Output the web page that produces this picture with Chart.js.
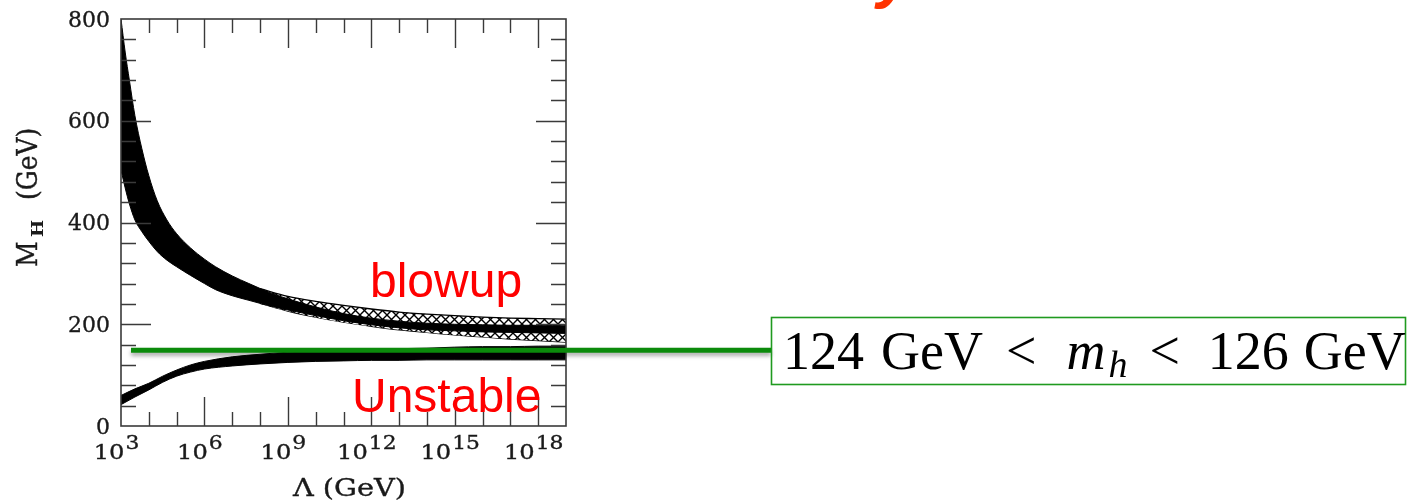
<!DOCTYPE html>
<html>
<head>
<meta charset="utf-8">
<script src="https://cdn.jsdelivr.net/npm/chart.js@4/dist/chart.umd.min.js"></script>
<style>
  html, body { margin: 0; padding: 0; background: #fff; overflow: hidden; }
  #wrap { width: 1408px; height: 503px; position: relative; }
</style>
</head>
<body>
<div id="wrap"><canvas id="c" width="1408" height="503"></canvas></div>
<script>
// Upper (triviality) bound: solid band, x = log10(Λ / GeV), y = M_H in GeV
const upperLogL   = [3, 3.15, 3.3, 3.5, 3.75, 4, 4.3, 4.65, 5, 5.5, 6, 6.4, 7, 7.6, 8.5, 9, 10, 11, 12, 13, 14, 15, 16, 17, 18, 19];
const upperTop    = [800, 735, 680, 610, 545, 492, 443, 405, 378, 350, 328, 313, 295, 280, 259, 250, 234, 221, 212, 206, 202, 200, 199, 198, 198, 197];
const upperBottom = [503, 468, 437, 405, 382, 363, 343, 326, 313, 296, 280, 268, 256, 247, 234, 228, 217, 207, 199, 193, 189, 187, 185, 184, 183, 182];

// Upper bound: hatched band (top-mass uncertainty)
const hatchLogL   = [8, 9, 10, 11, 12, 13, 14, 15, 16, 17, 18, 19];
const hatchTop    = [270, 255, 245, 237, 230, 224, 220, 217, 214, 212, 211, 210];
const hatchBottom = [241, 226, 214, 204, 196, 189, 184, 179, 175, 171, 168, 165];

// Lower (vacuum stability) bound
const lowerLogL   = [3, 3.5, 4, 4.5, 5, 5.5, 6, 7, 8, 9, 10, 11, 12, 13, 14, 15, 16, 17, 18, 19];
const lowerTop    = [60, 73, 84, 98, 110, 120, 127, 136, 141, 145, 147, 149, 150, 152, 153, 155, 156, 156, 157, 157];
const lowerBottom = [42, 57, 71, 86, 98, 106, 112, 118, 122, 125, 127, 128, 129, 129, 130, 130, 130, 130, 130, 130];

// Axis ticks
const xTickExponents = [3, 6, 9, 12, 15, 18];
const yTickLabels    = [0, 200, 400, 600, 800];

// Measured Higgs mass marker
const higgsMarkerMass  = 149;
const higgsMarkerStart = 3.36;
const higgsRangeText   = ['124', 'GeV', '<', 'm', 'h', '<', '126', 'GeV'];

const pts = (xs, ys) => xs.map((v, i) => ({ x: v, y: ys[i] }));

function makeHatch(ctx) {
  const n = 9;
  const c = document.createElement('canvas');
  c.width = n; c.height = n;
  const g = c.getContext('2d');
  g.fillStyle = '#fff';
  g.fillRect(0, 0, n, n);
  g.strokeStyle = '#000';
  g.lineWidth = 1.4;
  g.beginPath();
  g.moveTo(0, 0); g.lineTo(n, n);
  g.moveTo(n, 0); g.lineTo(0, n);
  g.stroke();
  return ctx.createPattern(c, 'repeat');
}

const canvas = document.getElementById('c');
const hatch = makeHatch(canvas.getContext('2d'));

const SERIF = '"DejaVu Serif"';

// text with a horizontal stretch and a light outline to give it some weight
function stretchedText(ctx, str, x, y, font, align, sx) {
  ctx.save();
  ctx.translate(x, y);
  ctx.scale(sx, 1);
  ctx.font = font;
  ctx.textAlign = align;
  ctx.lineWidth = 0.35;
  ctx.strokeStyle = ctx.fillStyle;
  ctx.fillText(str, 0, 0);
  ctx.strokeText(str, 0, 0);
  ctx.restore();
}

const decor = {
  id: 'decor',
  afterDatasetsDraw(chart) {
    const { ctx, chartArea: a, scales: { x, y } } = chart;
    ctx.save();

    // frame
    ctx.strokeStyle = '#3a3a3a';
    ctx.lineWidth = 1.6;
    ctx.strokeRect(a.left, a.top, a.right - a.left, a.bottom - a.top);

    // inward ticks, every decade on x, every 40 GeV on y
    ctx.lineWidth = 1.4;
    ctx.beginPath();
    for (let e = 4; e <= 18; e++) {
      const px = Math.round(x.getPixelForValue(e)) + 0.5;
      const len = e % 3 === 0 ? 29 : 14;
      ctx.moveTo(px, a.bottom); ctx.lineTo(px, a.bottom - len);
      ctx.moveTo(px, a.top);    ctx.lineTo(px, a.top + len);
    }
    for (let v = 40; v < 800; v += 40) {
      const py = Math.round(y.getPixelForValue(v)) + 0.5;
      const len = v % 200 === 0 ? 30 : 15;
      ctx.moveTo(a.left, py);  ctx.lineTo(a.left + len, py);
      ctx.moveTo(a.right, py); ctx.lineTo(a.right - len, py);
    }
    ctx.stroke();

    // tick labels
    ctx.fillStyle = '#1a1a1a';
    ctx.textBaseline = 'middle';
    yTickLabels.forEach(v => {
      stretchedText(ctx, String(v), a.left - 11, y.getPixelForValue(v) + 2,
        `22px ${SERIF}`, 'right', 1.0);
    });
    ctx.textBaseline = 'alphabetic';
    const SXL = 1.15;
    xTickExponents.forEach(e => {
      const px = x.getPixelForValue(e);
      ctx.font = `21px ${SERIF}`;
      const wBase = ctx.measureText('10').width * SXL;
      ctx.font = `19px ${SERIF}`;
      const wSup = ctx.measureText(String(e)).width * SXL;
      const left = px - 5 - (wBase + wSup) / 2;
      stretchedText(ctx, '10', left, a.bottom + 33, `21px ${SERIF}`, 'left', SXL);
      stretchedText(ctx, String(e), left + wBase + 1, a.bottom + 23, `19px ${SERIF}`, 'left', SXL);
    });

    // x axis title
    stretchedText(ctx, 'Λ (GeV)', (a.left + a.right) / 2 + 6, a.bottom + 70,
      `25px ${SERIF}`, 'center', 1.15);

    // y axis title (rotated, stretched across the page)
    ctx.save();
    ctx.translate(37, 267);
    ctx.rotate(-Math.PI / 2);
    ctx.scale(1, 1.15);
    ctx.lineWidth = 0.35;
    ctx.strokeStyle = ctx.fillStyle;
    ctx.textAlign = 'left';
    ctx.font = `25px ${SERIF}`;
    ctx.fillText('M', 0, 0);
    ctx.strokeText('M', 0, 0);
    ctx.save();
    ctx.scale(1.3, 1);
    ctx.font = `bold 14px ${SERIF}`;
    ctx.fillText('H', 30 / 1.3, 5);
    ctx.restore();
    ctx.font = `25px ${SERIF}`;
    ctx.fillText('(GeV)', 67, 0);
    ctx.strokeText('(GeV)', 67, 0);
    ctx.restore();

    // slide annotations
    ctx.fillStyle = '#ff0000';
    ctx.font = '48px "Liberation Sans"';
    ctx.textAlign = 'left';
    ctx.fillText('blowup', 370, 297);
    ctx.fillText('Unstable', 352, 412);

    ctx.fillStyle = '#ff3300';
    ctx.font = 'italic bold 64px "Liberation Sans"';
    ctx.fillText('y', 877, -4);

    // Higgs mass marker line and range box
    const gy = y.getPixelForValue(higgsMarkerMass);
    const boxL = 771, boxT = 317, boxR = 1405, boxB = 384;
    ctx.save();
    ctx.shadowColor = 'rgba(0,0,0,0.35)';
    ctx.shadowBlur = 4;
    ctx.shadowOffsetY = 3;
    ctx.strokeStyle = '#0b8a0b';
    ctx.lineWidth = 5;
    ctx.beginPath();
    ctx.moveTo(x.getPixelForValue(higgsMarkerStart), gy);
    ctx.lineTo(boxL, gy);
    ctx.stroke();
    ctx.restore();

    ctx.strokeStyle = '#1f9a1f';
    ctx.lineWidth = 1.6;
    ctx.strokeRect(boxL + 0.5, boxT + 0.5, boxR - boxL, boxB - boxT);

    ctx.fillStyle = '#000';
    const base = 369;
    let cx = 783;
    const put = (s, font, gapAfter, dy = 0) => {
      ctx.font = font;
      ctx.fillText(s, cx, base + dy);
      cx += ctx.measureText(s).width + gapAfter;
    };
    const rm = '54px "Liberation Serif"';
    const it = 'italic 54px "Liberation Serif"';
    put(higgsRangeText[0], rm, 17);
    put(higgsRangeText[1], rm, 23);
    put(higgsRangeText[2], rm, 30);
    put(higgsRangeText[3], it, 3);
    put(higgsRangeText[4], 'italic 38px "Liberation Serif"', 22, 8);
    put(higgsRangeText[5], rm, 28);
    put(higgsRangeText[6], rm, 15);
    put(higgsRangeText[7], rm, 0);

    ctx.restore();
  }
};

new Chart(canvas, {
  type: 'line',
  data: {
    datasets: [
      { data: pts(upperLogL, upperTop), fill: '+1', backgroundColor: '#000', borderColor: '#000', borderWidth: 1 },
      { data: pts(upperLogL, upperBottom), fill: false, borderColor: '#000', borderWidth: 1 },
      { data: pts(lowerLogL, lowerTop), fill: '+1', backgroundColor: '#000', borderColor: '#000', borderWidth: 1 },
      { data: pts(lowerLogL, lowerBottom), fill: false, borderColor: '#000', borderWidth: 1 },
      { data: pts(hatchLogL, hatchTop), fill: '+1', backgroundColor: hatch, borderColor: '#000', borderWidth: 1.3 },
      { data: pts(hatchLogL, hatchBottom), fill: false, borderColor: '#000', borderWidth: 1.3 }
    ]
  },
  options: {
    responsive: false,
    animation: false,
    devicePixelRatio: 1,
    events: [],
    layout: { padding: { left: 121, top: 19, right: 842, bottom: 77 } },
    elements: { point: { radius: 0 }, line: { cubicInterpolationMode: 'monotone' } },
    plugins: { legend: { display: false }, tooltip: { enabled: false } },
    scales: {
      x: { type: 'linear', min: 3, max: 19, display: false },
      y: { type: 'linear', min: 0, max: 800, display: false }
    }
  },
  plugins: [decor]
});
</script>
</body>
</html>
